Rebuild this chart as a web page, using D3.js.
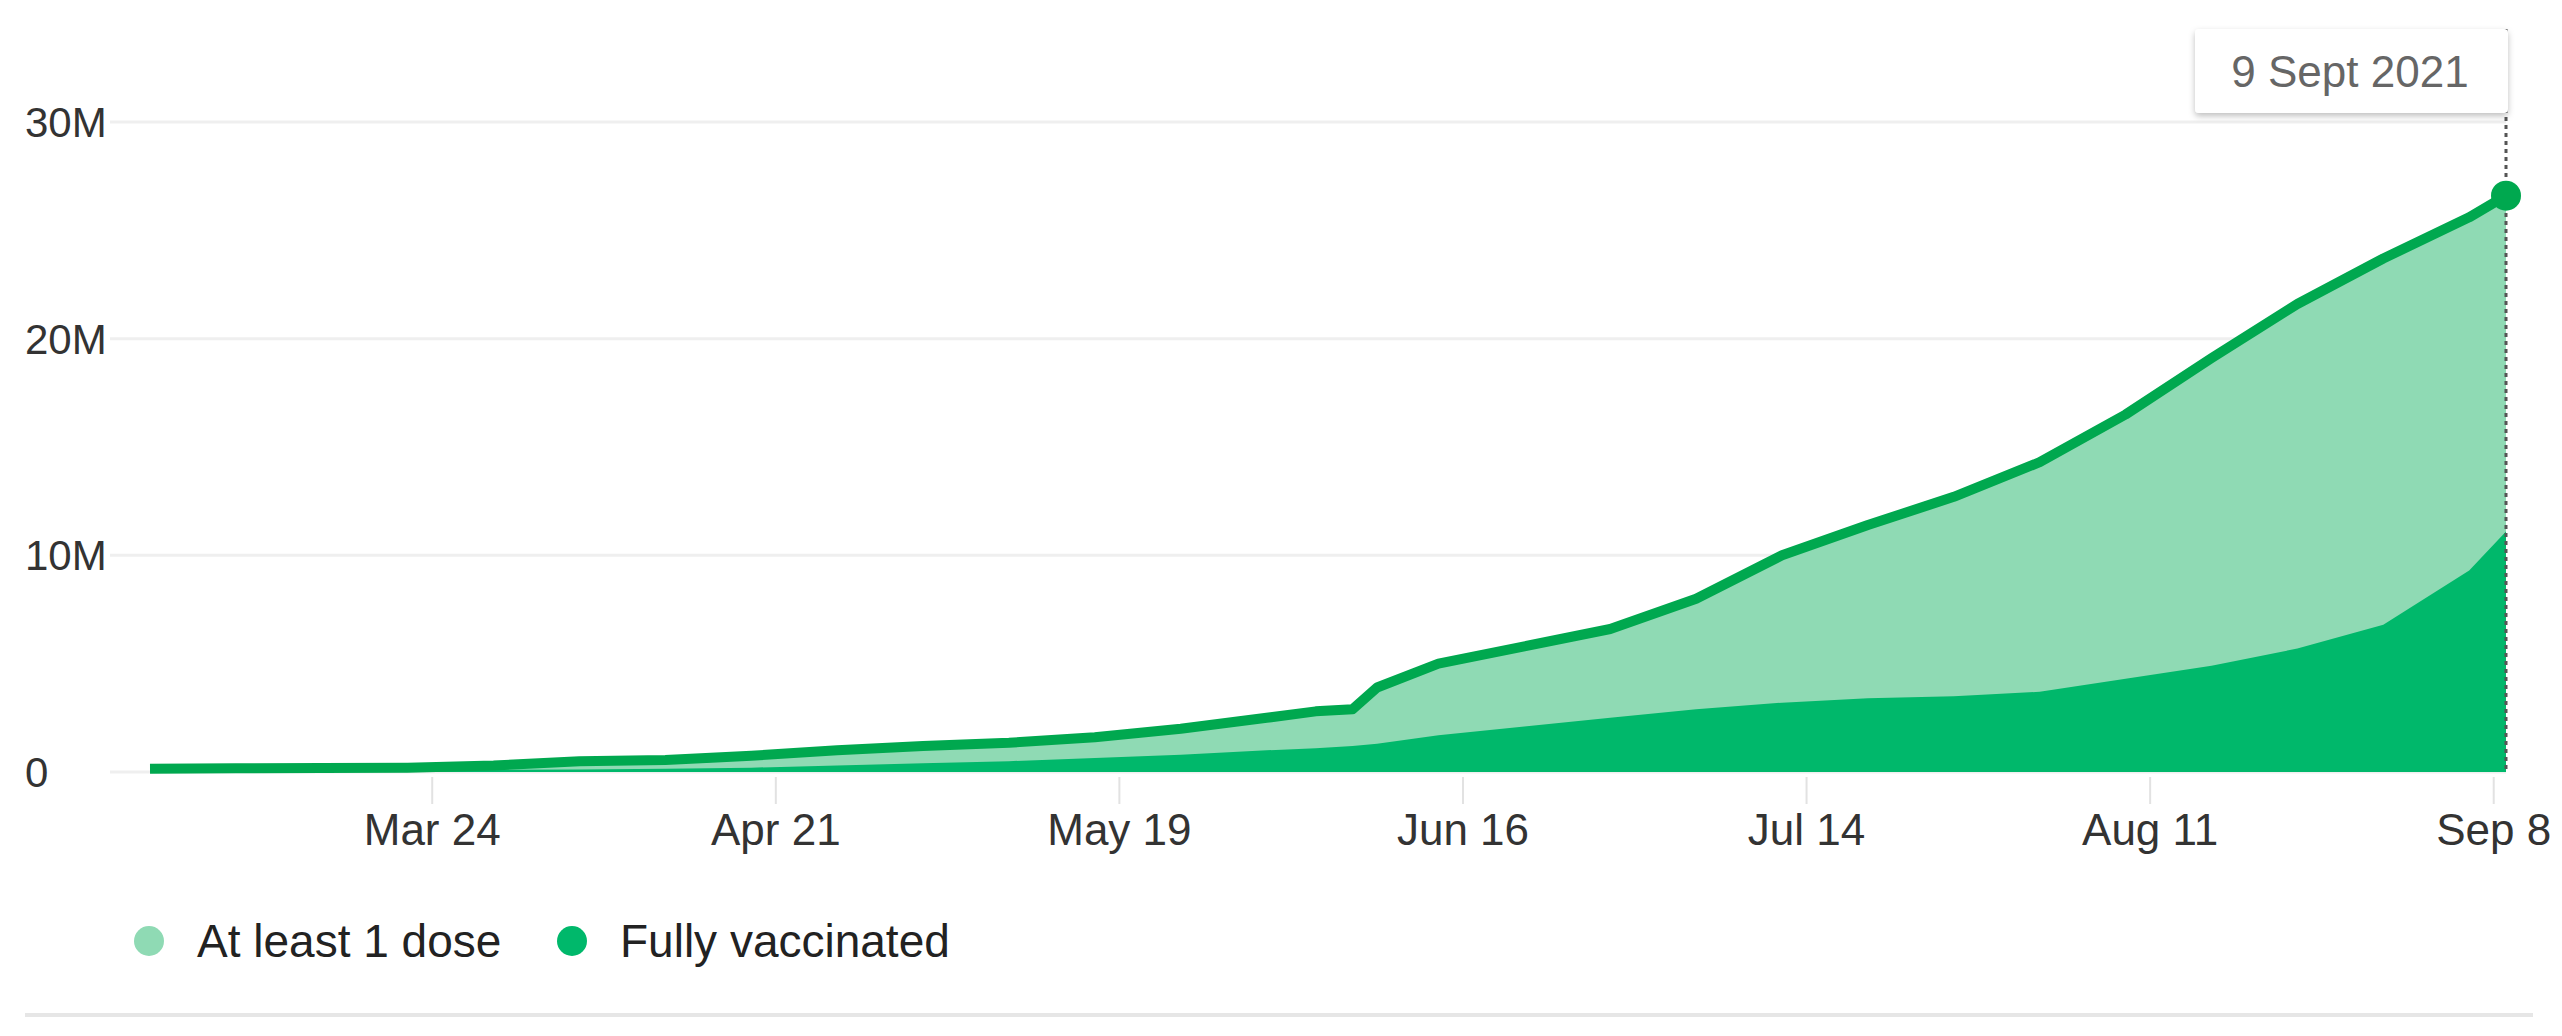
<!DOCTYPE html>
<html>
<head>
<meta charset="utf-8">
<script src="https://cdn.jsdelivr.net/npm/d3@7"></script>
<style>
  body { margin: 0; background: #fff; }
  text { font-family: "Liberation Sans", Arial, sans-serif; }
</style>
</head>
<body>
<script>
// data (millions of people)
const dates = ["2021-03-01","2021-03-08","2021-03-15","2021-03-22","2021-03-29","2021-04-05",
  "2021-04-12","2021-04-19","2021-04-26","2021-05-03","2021-05-10","2021-05-17","2021-05-24",
  "2021-05-31","2021-06-04","2021-06-07","2021-06-09","2021-06-14","2021-06-21","2021-06-28",
  "2021-07-05","2021-07-12","2021-07-19","2021-07-26","2021-08-02","2021-08-09","2021-08-16",
  "2021-08-23","2021-08-30","2021-09-06","2021-09-09"];
const atLeastOne = [0.15,0.17,0.18,0.2,0.3,0.5,0.55,0.75,1.0,1.2,1.35,1.6,2.0,2.5,2.8,2.9,3.9,
  5.0,5.8,6.6,8.0,10.0,11.4,12.7,14.3,16.5,19.1,21.6,23.7,25.6,26.6];
const fully = [0.05,0.06,0.07,0.08,0.1,0.12,0.15,0.2,0.3,0.4,0.5,0.65,0.8,1.0,1.1,1.2,1.3,
  1.7,2.1,2.5,2.9,3.2,3.4,3.5,3.7,4.3,4.9,5.7,6.8,9.3,11.1];
const yTicks = [0, 10, 20, 30];
const xTickDates = ["2021-03-24","2021-04-21","2021-05-19","2021-06-16","2021-07-14","2021-08-11","2021-09-08"];
const tooltipLabel = "9 Sept 2021";
const legendItems = ["At least 1 dose", "Fully vaccinated"];

const W = 2562, H = 1036;
const colors = { light: "#8fdab4", dark: "#00b86b", line: "#00a84f" };

const parse = d3.timeParse("%Y-%m-%d");
const data = dates.map((d, i) => ({ t: parse(d), a: atLeastOne[i], f: fully[i] }));

const x = d3.scaleTime().domain(d3.extent(data, d => d.t)).range([150, 2506]);
const y = d3.scaleLinear().domain([0, 30]).range([772, 122]);

const svg = d3.select("body").append("svg")
    .attr("width", W).attr("height", H);

// shadow for the tooltip box
svg.append("defs").append("filter").attr("id", "shadow")
    .attr("x", "-10%").attr("y", "-10%").attr("width", "120%").attr("height", "140%")
    .append("feDropShadow")
    .attr("dx", 0).attr("dy", 3).attr("stdDeviation", 3)
    .attr("flood-color", "#000").attr("flood-opacity", 0.25);

// gridlines + y labels
const yAxis = svg.append("g");
yAxis.selectAll("line").data(yTicks).join("line")
    .attr("x1", 110).attr("x2", 2506)
    .attr("y1", d => y(d)).attr("y2", d => y(d))
    .attr("stroke", "#efefef").attr("stroke-width", 3);
yAxis.selectAll("text").data(yTicks).join("text")
    .attr("x", 25).attr("y", d => y(d) + 15)
    .attr("font-size", 42).attr("fill", "#333")
    .text(d => d === 0 ? "0" : d + "M");

// x axis ticks
const xAxis = svg.append("g");
const xt = xTickDates.map(parse);
xAxis.selectAll("line").data(xt).join("line")
    .attr("x1", d => x(d)).attr("x2", d => x(d))
    .attr("y1", 777).attr("y2", 804)
    .attr("stroke", "#e2e2e2").attr("stroke-width", 2);
xAxis.selectAll("text").data(xt).join("text")
    .attr("x", d => x(d)).attr("y", 845)
    .attr("text-anchor", "middle")
    .attr("font-size", 44).attr("fill", "#333")
    .text(d3.timeFormat("%b %-d"));

// areas
const areaA = d3.area().x(d => x(d.t)).y0(y(0)).y1(d => y(d.a));
const areaF = d3.area().x(d => x(d.t)).y0(y(0)).y1(d => y(d.f));
svg.append("path").datum(data).attr("d", areaA).attr("fill", colors.light);
svg.append("path").datum(data).attr("d", areaF).attr("fill", colors.dark);

// dotted hover line
const last = data[data.length - 1];
svg.append("line")
    .attr("x1", x(last.t)).attr("x2", x(last.t))
    .attr("y1", 29).attr("y2", y(0))
    .attr("stroke", "#555").attr("stroke-width", 3)
    .attr("stroke-dasharray", "4,4");

// top line
svg.append("path").datum(data)
    .attr("d", d3.line().x(d => x(d.t)).y(d => y(d.a)))
    .attr("fill", "none").attr("stroke", colors.line)
    .attr("stroke-width", 10).attr("stroke-linejoin", "round");

svg.append("circle")
    .attr("cx", x(last.t)).attr("cy", y(last.a)).attr("r", 15)
    .attr("fill", colors.line);

// tooltip
svg.append("rect")
    .attr("x", 2195).attr("y", 29).attr("width", 313).attr("height", 84)
    .attr("rx", 4).attr("fill", "#fff").attr("filter", "url(#shadow)");
svg.append("text")
    .attr("x", 2350).attr("y", 87).attr("text-anchor", "middle")
    .attr("font-size", 44).attr("fill", "#666")
    .text(tooltipLabel);

// legend
const legX = [149, 572];
const leg = svg.append("g");
leg.selectAll("circle").data(legendItems).join("circle")
    .attr("cx", (d, i) => legX[i]).attr("cy", 941).attr("r", 15)
    .attr("fill", (d, i) => i === 0 ? colors.light : colors.dark);
leg.selectAll("text").data(legendItems).join("text")
    .attr("x", (d, i) => legX[i] + 48).attr("y", 957)
    .attr("font-size", 46).attr("fill", "#222")
    .text(d => d);

// bottom rule
svg.append("line")
    .attr("x1", 25).attr("x2", 2533).attr("y1", 1015).attr("y2", 1015)
    .attr("stroke", "#e6e6e6").attr("stroke-width", 4);
</script>
</body>
</html>
